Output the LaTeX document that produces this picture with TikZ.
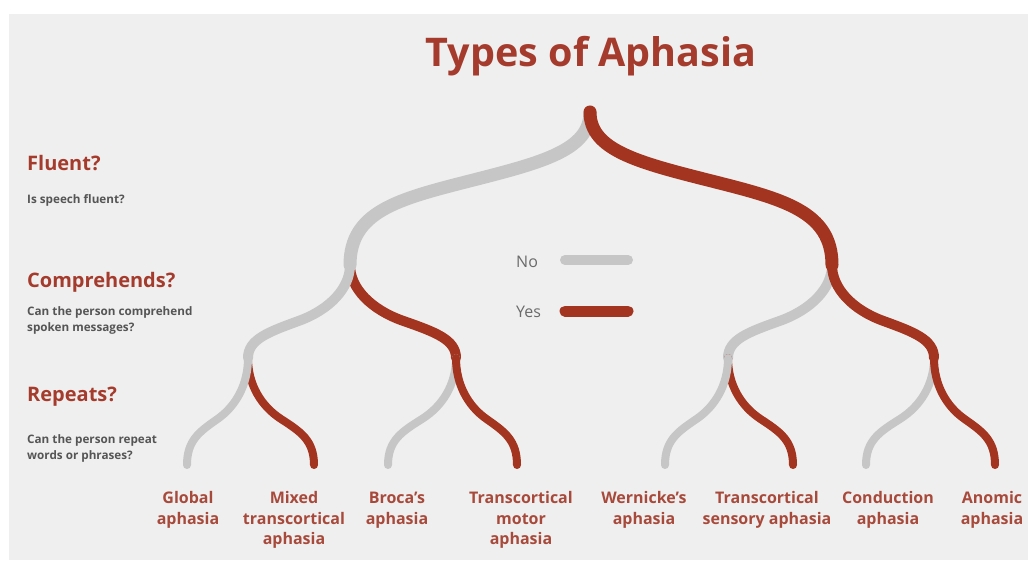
\documentclass[tikz,border=0pt]{standalone}
\usepackage{fontspec}
\setmainfont{Open Sans}
\usetikzlibrary{calc}
\definecolor{bg}{HTML}{EFEFEF}
\definecolor{ared}{HTML}{A3341F}
\definecolor{tred}{HTML}{A53B2C}
\definecolor{lred}{HTML}{A84A3B}
\definecolor{lgray}{HTML}{C6C6C6}
\definecolor{dtext}{HTML}{555555}
\definecolor{ltext}{HTML}{6A6A6A}
\tikzset{
  sb/.style={to path={let \p1=(\tikztostart), \p2=(\tikztotarget),
      \p3=($(\p1)!0.25!(\p2)$), \p4=($(\p1)!0.2!(\p2)$),
      \p5=($(\p1)!#1-0.12!(\p2)$), \p6=($(\p1)!0.5!(\p2)$),
      \p7=($(\p1)!#1!(\p2)$), \p8=($(\p1)!0.8!(\p2)$),
      \p9=($(\p1)!#1+0.12!(\p2)$), \p{10}=($(\p1)!#1+0.2!(\p2)$) in
      .. controls (\x1,\y3) and (\x4,\y5) .. (\x6,\y7)
      .. controls (\x8,\y9) and (\x2,\y{10}) .. (\tikztotarget)}},
  nob/.style={draw=lgray, line cap=round},
  yesb/.style={draw=ared, line cap=round},
  lvA/.style={line width=13pt, sb=0.45},
  lvB/.style={line width=10pt, sb=0.6},
  lvC/.style={line width=8pt, sb=0.57},
  qhead/.style={anchor=base west, inner sep=0pt, text=tred, font=\bfseries\fontsize{20}{24}\selectfont},
  qdesc/.style={anchor=base west, inner sep=0pt, align=left, text=dtext, font=\bfseries\fontsize{11.7}{16}\selectfont},
  leaf/.style={anchor=base, inner sep=0pt, align=center, text=lred, font=\bfseries\fontsize{16}{20.5}\selectfont},
  legtext/.style={anchor=base west, inner sep=0pt, text=ltext, font=\fontsize{16}{19}\selectfont},
}
\begin{document}
\begin{tikzpicture}[x=1pt,y=-1pt]
\useasboundingbox (0,0) rectangle (1028,560);
\fill[white] (0,0) rectangle (1028,560);
\fill[bg] (9,14) rectangle (1028,560);

% title
\node[anchor=base, inner sep=0pt, text=tred, font=\bfseries\fontsize{39.5}{44}\selectfont] (title) at (591,66) {Types of Aphasia};

% questions
\node[qhead] (qfluent) at (27,170) {Fluent?};
\node[qdesc] (dfluent) at (27,203) {Is speech fluent?};
\node[qhead] (qcomp) at (27,287) {Comprehends?};
\node[qdesc] (dcomp) at (27,331) {Can the person comprehend\\spoken messages?};
\node[qhead] (qrep) at (27,401) {Repeats?};
\node[qdesc] (drep) at (27,459) {Can the person repeat\\words or phrases?};

% junctions and leaves
\coordinate (R) at (590,112);
\coordinate (A) at (350,265);
\coordinate (B) at (832,265);
\coordinate (C) at (248,358);
\coordinate (D) at (456,358);
\coordinate (E) at (728,358);
\coordinate (F) at (934,358);
\coordinate (L1) at (187,465);
\coordinate (L2) at (314,465);
\coordinate (L3) at (388,465);
\coordinate (L4) at (517,465);
\coordinate (L5) at (665,465);
\coordinate (L6) at (793,465);
\coordinate (L7) at (866,465);
\coordinate (L8) at (995,465);

% emerging branches (underneath)
\draw[yesb, lvB] (A) to (D);
\draw[nob, lvB] (B) to (E);
\draw[yesb, lvC] (C) to (L2);
\draw[nob, lvC] (D) to (L3);
\draw[yesb, lvC] (E) to (L6);
\draw[nob, lvC] (F) to (L7);
% continuing branches
\draw[nob, lvC] (C) to (L1);
\draw[yesb, lvC] (D) to (L4);
\draw[nob, lvC] (E) to (L5);
\draw[yesb, lvC] (F) to (L8);
\draw[nob, lvB] (A) to (C);
\draw[yesb, lvB] (B) to (F);
\draw[nob, lvA] (R) to (A);
\draw[yesb, lvA] (R) to (B);

% legend
\node[legtext] (lno) at (516,267) {No};
\node[legtext] (lyes) at (516,317) {Yes};
\coordinate (n1) at (565,260);
\coordinate (n2) at (628,260);
\coordinate (y1) at (565,311);
\coordinate (y2) at (628,311);
\draw[nob, line width=10pt] (n1) -- (n2);
\draw[yesb, line width=11pt] (y1) -- (y2);

% leaf labels (base anchor = last line's baseline)
\node[leaf] (t1) at (188,524) {Global\\aphasia};
\node[leaf] (t2) at (294,544.5) {Mixed\\transcortical\\aphasia};
\node[leaf] (t3) at (397,524) {Broca’s\\aphasia};
\node[leaf] (t4) at (521,544.5) {Transcortical\\motor\\aphasia};
\node[leaf] (t5) at (644,524) {Wernicke’s\\aphasia};
\node[leaf] (t6) at (767,524) {Transcortical\\sensory aphasia};
\node[leaf] (t7) at (888,524) {Conduction\\aphasia};
\node[leaf] (t8) at (992,524) {Anomic\\aphasia};
\end{tikzpicture}
\end{document}
